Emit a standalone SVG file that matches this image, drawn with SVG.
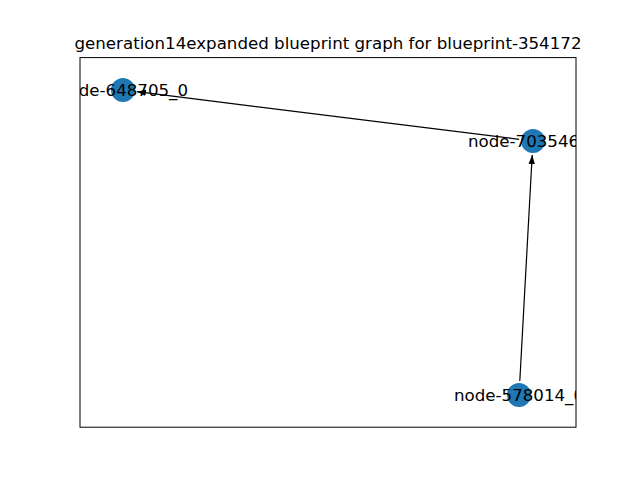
<svg xmlns="http://www.w3.org/2000/svg" width="640" height="480" viewBox="0 0 640 480">
<style>
.lbl{font-family:"DejaVu Sans",sans-serif;font-size:16.67px;fill:#000;text-anchor:middle;dominant-baseline:central}
.node{fill:#1f78b4}
.edge{stroke:#000;stroke-width:1.2;fill:none}
.title{font-family:"DejaVu Sans",sans-serif;font-size:16.67px;fill:#000;text-anchor:middle}
</style>
<defs>
<clipPath id="ax"><rect x="80" y="57.6" width="496" height="369.6"/></clipPath>
<marker id="arr" markerUnits="userSpaceOnUse" markerWidth="10" markerHeight="8" refX="9" refY="4" orient="auto">
<path d="M0,0.8 L9,4 L0,7.2 Z" fill="#000"/>
</marker>
</defs>
<rect width="640" height="480" fill="#fff"/>
<text class="title" x="328" y="49">generation14expanded blueprint graph for blueprint-354172</text>
<g id="connectors">
<line class="edge" x1="519.1" y1="139.3" x2="136.9" y2="91.7" marker-end="url(#arr)"/>
<line class="edge" x1="519.8" y1="381" x2="532.2" y2="155" marker-end="url(#arr)"/>
</g>
<g clip-path="url(#ax)">
<g id="node-648705_0"><circle class="node" cx="123" cy="90" r="12"/><text class="lbl" x="123" y="90">node-648705_0</text></g>
<g id="node-703546_0"><circle class="node" cx="533" cy="141" r="12"/><text class="lbl" x="533" y="141">node-703546_0</text></g>
<g id="node-578014_0"><circle class="node" cx="519" cy="395" r="12"/><text class="lbl" x="519" y="395">node-578014_0</text></g>
</g>
<rect x="80" y="57.6" width="496" height="369.6" fill="none" stroke="#000" stroke-width="1"/>
</svg>
